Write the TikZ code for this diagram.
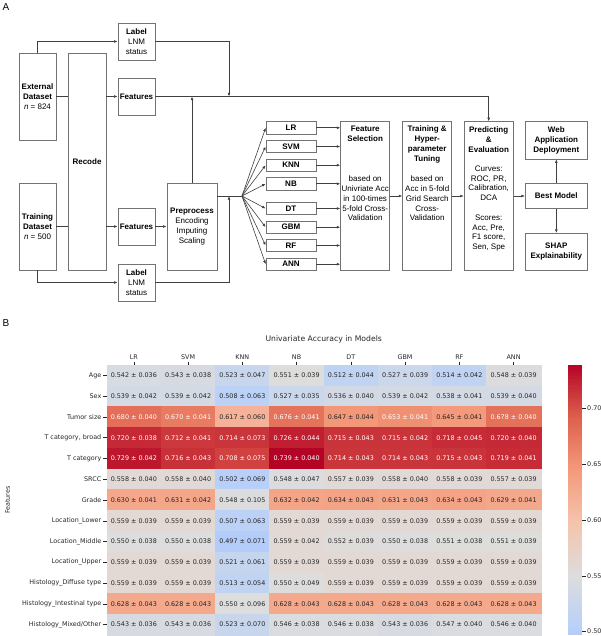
\documentclass[tikz,border=0pt]{standalone}
\usepackage{fontspec}
\setmainfont{Liberation Sans}
\newfontfamily\heatfont{DejaVu Sans}
\usetikzlibrary{arrows.meta,positioning,calc}

% coolwarm colour stops
\definecolor{cw0}{RGB}{59,76,192}
\definecolor{cw1}{RGB}{98,130,234}
\definecolor{cw2}{RGB}{141,176,254}
\definecolor{cw3}{RGB}{184,208,249}
\definecolor{cw4}{RGB}{221,221,221}
\definecolor{cw5}{RGB}{245,196,173}
\definecolor{cw6}{RGB}{244,154,123}
\definecolor{cw7}{RGB}{222,96,77}
\definecolor{cw8}{RGB}{180,4,38}
\definecolor{figtext}{RGB}{38,38,38}

% value -> colour heatc (centre 0.55), text colour \htext
\newcommand\heatcolor[1]{%
  \pgfmathsetmacro\hpos{min(max((0.5+(#1-0.55)*2.6455)*8,0),7.999)}%
  \pgfmathtruncatemacro\hidx{floor(\hpos)}%
  \pgfmathtruncatemacro\hnext{\hidx+1}%
  \pgfmathtruncatemacro\hpct{round((\hpos-\hidx)*100)}%
  \colorlet{heatc}{cw\hnext!\hpct!cw\hidx}%
  \pgfmathtruncatemacro\hwhite{#1>0.65?1:0}%
  \ifnum\hwhite=1 \def\htext{white}\else\def\htext{figtext}\fi}

% one row of the heatmap: number, label, value/sd list
\newcommand\heatrow[3]{%
  \node[rowlab] (r#1) at (101.5,{365+20.77*(#1-0.5)}) {#2};
  \draw[tickln] (103,{365+20.77*(#1-0.5)}) -- (106.7,{365+20.77*(#1-0.5)});
  \foreach \hv/\hs [count=\hc] in {#3}{%
    \heatcolor{\hv}%
    \node[heatcell,fill=heatc,draw=heatc,text=\htext] (h#1-\hc)
      at ({106.7+54.25*(\hc-0.5)},{365+20.77*(#1-0.5)}) {\hv{} ± \hs};
  }}

\tikzset{
  box/.style={draw=black!55, line width=0.7pt, inner sep=0pt, align=center,
    font=\fontsize{8}{9.8}\selectfont},
  small box/.style={box, minimum width=37pt, minimum height=37pt},
  modelbox/.style={box, minimum width=50pt, minimum height=12.3pt},
  stagebox/.style={box, minimum width=49pt, minimum height=148.6pt},
  sidebox/.style={box, minimum width=62pt, font=\bfseries\fontsize{8}{9.8}\selectfont},
  txt/.style={inner sep=0pt, align=center, font=\fontsize{8}{9.8}\selectfont},
  btxt/.style={txt, font=\bfseries\fontsize{8}{9.8}\selectfont},
  ln/.style={draw=black!75, line width=0.6pt},
  arr/.style={ln, -{Latex[length=3.6pt,width=2.8pt]}},
  heatcell/.style={minimum width=54.25pt, minimum height=20.77pt, inner sep=0pt,
    line width=0.4pt, font=\heatfont\fontsize{6.4}{7.5}\selectfont},
  rowlab/.style={anchor=east, inner sep=0pt, text=figtext, font=\heatfont\fontsize{6.4}{7.5}\selectfont},
  collab/.style={inner sep=0pt, text=figtext, font=\heatfont\fontsize{6.4}{7.5}\selectfont},
  tickln/.style={draw=figtext, line width=0.5pt}
}

\begin{document}
\begin{tikzpicture}[x=1pt,y=-1pt]
\useasboundingbox (0,0) rectangle (601,636);

% panel A
\node[font=\fontsize{10}{12}\selectfont, inner sep=0pt] (pA) at (6,7) {A};
\node[box, minimum width=37pt, minimum height=87pt] (ext) at (37.5,96.5) {\textbf{External}\\\textbf{Dataset}\\\textit{n} = 824};
\node[box, minimum width=37pt, minimum height=87pt] (trn) at (37.5,226.5) {\textbf{Training}\\\textbf{Dataset}\\\textit{n} = 500};
\node[box, minimum width=38pt, minimum height=217pt, font=\bfseries\fontsize{8}{9.8}\selectfont] (rec) at (87,161.5) {Recode};
\node[small box] (lbt) at (136.5,41.5) {\textbf{Label}\\LNM\\status};
\node[small box] (ftt) at (136.5,96.5) {\textbf{Features}};
\node[small box] (ftb) at (136.5,226.5) {\textbf{Features}};
\node[small box] (lbb) at (136.5,282.5) {\textbf{Label}\\LNM\\status};
\node[box, minimum width=50pt, minimum height=87pt] (pre) at (192,226.5) {\textbf{Preprocess}\\Encoding\\Imputing\\Scaling};

\node[stagebox] (fs) at (365.2,196) {};
\node[btxt] (fst) at ([yshift=-12.8pt]fs.north) {Feature\\Selection};
\node[txt] (fsb) at ([yshift=-2.5pt]fs.center) {based on\\Univriate Acc\\in 100-times\\5-fold Cross-\\Validation};
\node[stagebox] (tr) at (427.2,196) {};
\node[btxt] (trt) at ([yshift=-23pt]tr.north) {Training \&\\Hyper-\\parameter\\Tuning};
\node[txt] (trb) at ([yshift=-2.5pt]tr.center) {based on\\Acc in 5-fold\\Grid Search\\Cross-\\Validation};
\node[stagebox] (pe) at (488.7,196) {};
\node[btxt] (pet) at ([yshift=-18.2pt]pe.north) {Predicting\\\&\\Evaluation};
\node[txt] (peb) at ([yshift=-12.5pt]pe.center) {Curves:\\ROC, PR,\\Calibration,\\DCA\\[9.8pt]Scores:\\Acc, Pre,\\F1 score,\\Sen, Spe};

\node[sidebox, minimum height=37.3pt] (web) at (556.3,140.3) {Web\\Application\\Deployment};
\node[sidebox, minimum height=24.6pt] (best) at (556.3,196) {Best Model};
\node[sidebox, minimum height=37pt] (shap) at (556.3,251.8) {SHAP\\Explainability};

\coordinate (fan) at (242,196);
\coordinate (jt) at (229,96.5);
\coordinate (jb) at (229,196);

\draw[ln] (ext.east) -- (rec.west |- ext.east);
\draw[arr] (rec.east |- ext.east) -- (ftt.west);
\draw[ln] (trn.east) -- (rec.west |- trn.east);
\draw[arr] (rec.east |- trn.east) -- (ftb.west);
\draw[arr] (ext.north) |- (lbt.west);
\draw[arr] (lbt.east) -| (jt);
\draw[arr] (ftt.east) -| (pe.north);
\draw[arr] (pre.north) -- (pre.north |- ftt.east);
\draw[arr] (trn.south) |- (lbb.west);
\draw[arr] (ftb.east) -- (pre.west);
\draw[ln] (pre.east |- fan) -- (fan);
\draw[arr] (lbb.east) -| (jb);

\foreach \m/\y in {LR/127.8, SVM/146.5, KNN/165.2, NB/183.8, DT/208.5, GBM/227.2, RF/245.5, ANN/264.2}{
  \node[modelbox] (\m) at (291,\y) {\textbf{\m}};
  \draw[arr] (fan) -- (\m.west);
  \draw[arr] (\m.east) -- (\m.east -| fs.west);
}
\draw[arr] (fs.east) -- (tr.west);
\draw[arr] (tr.east) -- (pe.west);
\draw[arr] (pe.east) -- (best.west);
\draw[arr] (best.north) -- (web.south);
\draw[arr] (best.south) -- (shap.north);

% panel B
\node[font=\fontsize{10}{12}\selectfont, inner sep=0pt] (pB) at (6,323.5) {B};
\node[collab, font=\heatfont\fontsize{7.7}{9}\selectfont] (title) at (323.7,339.5) {Univariate Accuracy in Models};
\foreach \m [count=\hc] in {LR,SVM,KNN,NB,DT,GBM,RF,ANN}{
  \node[collab] (col\hc) at ({106.7+54.25*(\hc-0.5)},357) {\m};
  \draw[tickln] ({106.7+54.25*(\hc-0.5)},361.5) -- ({106.7+54.25*(\hc-0.5)},365);
}
\heatrow{1}{Age}{0.542/0.036,0.543/0.038,0.523/0.047,0.551/0.039,0.512/0.044,0.527/0.039,0.514/0.042,0.548/0.039}
\heatrow{2}{Sex}{0.539/0.042,0.539/0.042,0.508/0.063,0.527/0.035,0.536/0.040,0.539/0.042,0.538/0.041,0.539/0.040}
\heatrow{3}{Tumor size}{0.680/0.040,0.670/0.041,0.617/0.060,0.676/0.041,0.647/0.044,0.653/0.041,0.645/0.041,0.678/0.040}
\heatrow{4}{T category, broad}{0.720/0.038,0.712/0.041,0.714/0.073,0.726/0.044,0.715/0.043,0.715/0.042,0.718/0.045,0.720/0.040}
\heatrow{5}{T category}{0.729/0.042,0.716/0.043,0.708/0.075,0.739/0.040,0.714/0.043,0.714/0.043,0.715/0.043,0.719/0.041}
\heatrow{6}{SRCC}{0.558/0.040,0.558/0.040,0.502/0.069,0.548/0.047,0.557/0.039,0.558/0.040,0.558/0.039,0.557/0.039}
\heatrow{7}{Grade}{0.630/0.041,0.631/0.042,0.548/0.105,0.632/0.042,0.634/0.043,0.631/0.043,0.634/0.043,0.629/0.041}
\heatrow{8}{Location\_Lower}{0.559/0.039,0.559/0.039,0.507/0.063,0.559/0.039,0.559/0.039,0.559/0.039,0.559/0.039,0.559/0.039}
\heatrow{9}{Location\_Middle}{0.550/0.038,0.550/0.038,0.497/0.071,0.559/0.042,0.552/0.039,0.550/0.038,0.551/0.038,0.551/0.039}
\heatrow{10}{Location\_Upper}{0.559/0.039,0.559/0.039,0.521/0.061,0.559/0.039,0.559/0.039,0.559/0.039,0.559/0.039,0.559/0.039}
\heatrow{11}{Histology\_Diffuse type}{0.559/0.039,0.559/0.039,0.513/0.054,0.550/0.049,0.559/0.039,0.559/0.039,0.559/0.039,0.559/0.039}
\heatrow{12}{Histology\_Intestinal type}{0.628/0.043,0.628/0.043,0.550/0.096,0.628/0.043,0.628/0.043,0.628/0.043,0.628/0.043,0.628/0.043}
\heatrow{13}{Histology\_Mixed/Other}{0.543/0.036,0.543/0.036,0.523/0.070,0.546/0.038,0.546/0.038,0.543/0.036,0.547/0.040,0.546/0.040}
\node[collab, rotate=90] (ylab) at (7.5,500) {Features};

% colour bar
\foreach \k in {0,...,119}{
  \pgfmathsetmacro\cv{0.497+(\k+0.5)*0.242/120}
  \heatcolor{\cv}
  \fill[heatc] (568.3,{635-\k*2.25}) rectangle (582.3,{635-(\k+1)*2.25-0.4});
}
\foreach \tk in {0.50,0.55,0.60,0.65,0.70}{
  \pgfmathsetmacro\ty{635-(\tk-0.497)*270/0.242}
  \draw[tickln] (582.3,\ty) -- (585.8,\ty);
  \node[collab, anchor=west] (cb\tk) at (587,\ty) {\tk};
}
\end{tikzpicture}
\end{document}
